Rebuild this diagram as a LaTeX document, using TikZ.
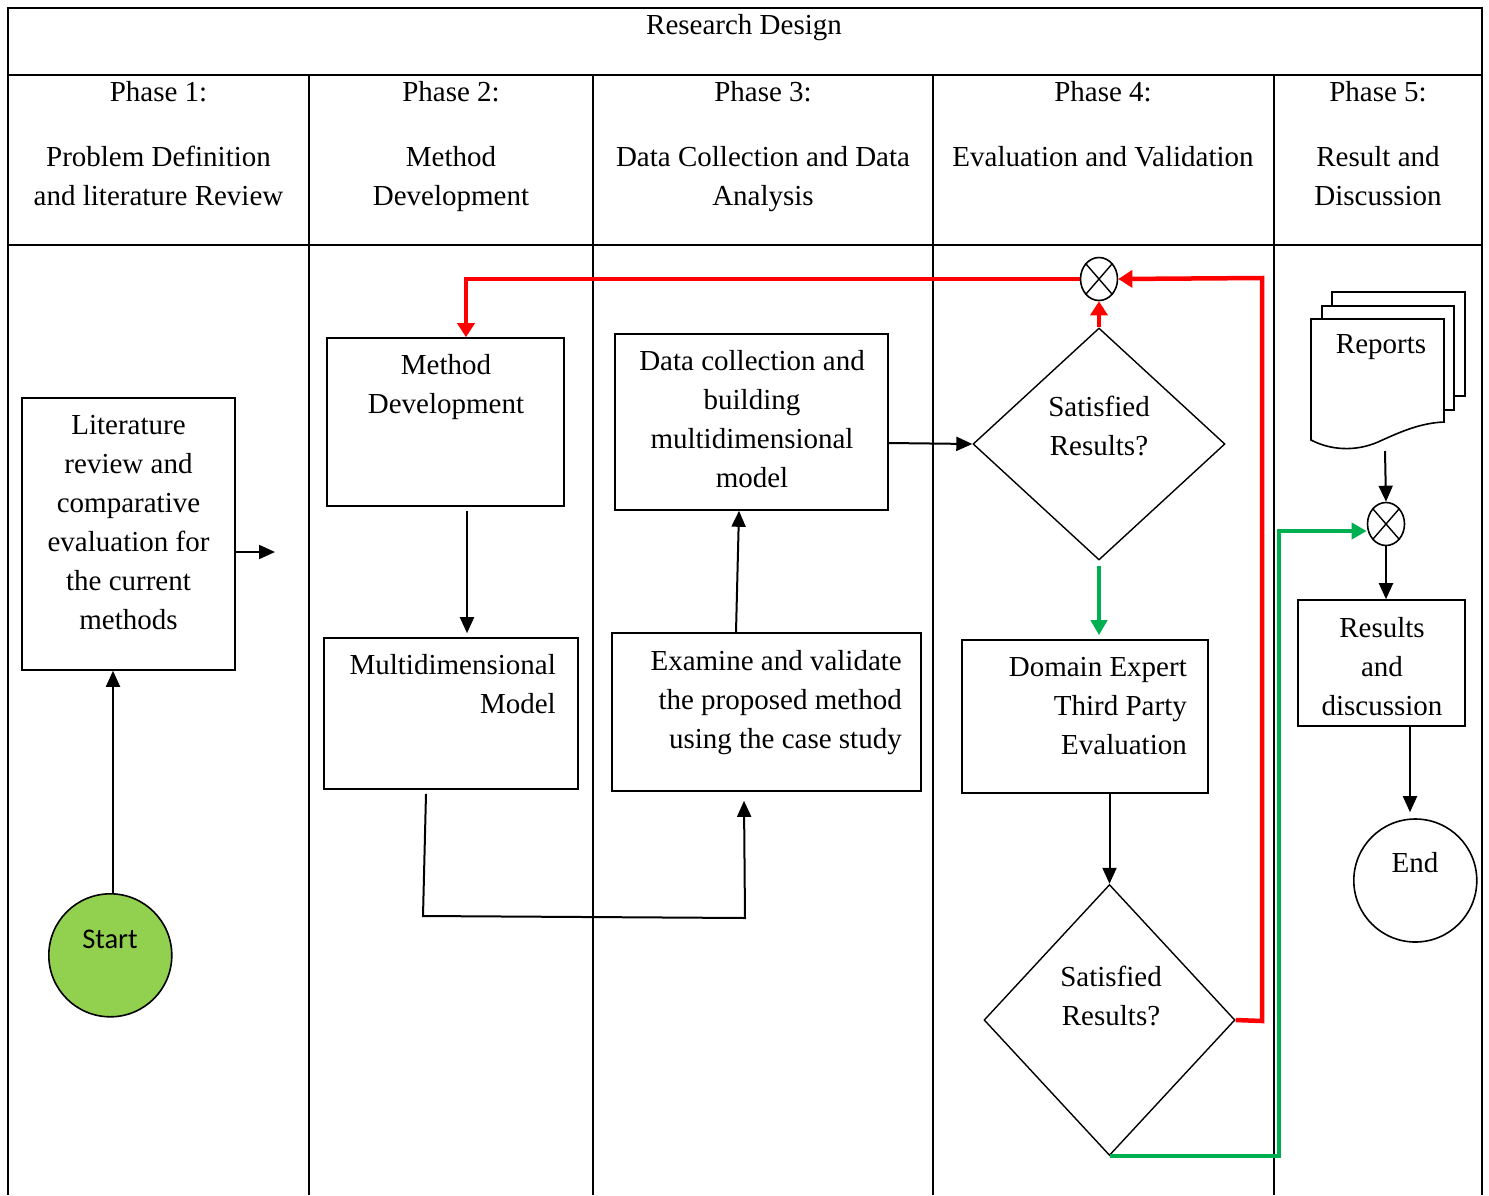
\documentclass[tikz,border=0pt]{standalone}
\usepackage{fontspec}
\setmainfont{Liberation Serif}
\newfontfamily\calibri{Carlito}
\usetikzlibrary{arrows.meta,shapes.geometric}
\definecolor{myred}{RGB}{255,0,0}
\definecolor{mygreen}{RGB}{0,176,80}
\definecolor{startgreen}{RGB}{146,208,80}
\newcommand\fs{\fontsize{29}{39}\selectfont}
\begin{document}
\begin{tikzpicture}[x=1pt,y=-1pt,
  grid/.style={line width=1.8pt},
  box/.style={draw, line width=1.6pt, inner sep=0pt},
  txt/.style={inner sep=0pt, anchor=north, font=\fs, align=center},
  rtxt/.style={inner sep=0pt, anchor=north east, font=\fs, align=right},
  arr/.style={line width=2pt, -{Triangle[length=16pt,width=14pt]}},
  redarr/.style={line width=4.5pt, draw=myred, -{Triangle[length=14pt,width=17pt]}},
  greenarr/.style={line width=4.5pt, draw=mygreen, -{Triangle[length=15pt,width=16pt]}},
  xnode/.style={ellipse, draw, line width=1.6pt, minimum width=37pt, minimum height=43pt, inner sep=0pt},
  dec/.style={diamond, draw, line width=1.4pt, inner sep=0pt},
  term/.style={circle, draw, line width=1.6pt, inner sep=0pt, minimum size=123pt}
]
\useasboundingbox (0,0) rectangle (1489,1195);

% table
\draw[grid] (8,1195) -- (8,8) -- (1482,8) -- (1482,1195);
\draw[grid] (8,75) -- (1482,75);
\draw[grid] (8,245) -- (1482,245);
\foreach \cx in {309,593,933,1274} \draw[grid] (\cx,75) -- (\cx,1195);

% headers
\node[txt] (title) at (744,7.2) {\strut Research Design};
\node[txt] (p1) at (158.5,74.2) {\strut Phase 1:};
\node[txt] (p2) at (451,74.2) {\strut Phase 2:};
\node[txt] (p3) at (763,74.2) {\strut Phase 3:};
\node[txt] (p4) at (1103,74.2) {\strut Phase 4:};
\node[txt] (p5) at (1378,74.2) {\strut Phase 5:};
\node[txt] (p1d) at (158.5,139.2) {\strut Problem Definition\\and literature Review};
\node[txt] (p2d) at (451,139.2) {\strut Method\\Development};
\node[txt] (p3d) at (763,139.2) {\strut Data Collection and Data\\Analysis};
\node[txt] (p4d) at (1103,139.2) {\strut Evaluation and Validation};
\node[txt] (p5d) at (1378,139.2) {\strut Result and\\Discussion};

% boxes
\node[box, minimum width=213pt, minimum height=272pt] (lit) at (128.5,534) {};
\node[txt] (litT) at (128.5,407.2) {\strut Literature\\review and\\comparative\\evaluation for\\the current\\methods};
\node[box, minimum width=237pt, minimum height=168pt] (mdev) at (445.5,422) {};
\node[txt] (mdevT) at (446,347.2) {\strut Method\\Development};
\node[box, minimum width=254pt, minimum height=151pt] (mm) at (451,713.5) {};
\node[rtxt] (mmT) at (556,647.2) {\strut Multidimensional\\Model};
\node[box, minimum width=273pt, minimum height=176pt] (dc) at (751.5,422) {};
\node[txt] (dcT) at (752,343.2) {\strut Data collection and\\building\\multidimensional\\model};
\node[box, minimum width=309pt, minimum height=158pt] (ex) at (766.5,712) {};
\node[rtxt] (exT) at (902,643.2) {\strut Examine and validate\\the proposed method\\using the case study};
\node[box, minimum width=246pt, minimum height=153pt] (dom) at (1085,716.5) {};
\node[rtxt] (domT) at (1187,649.2) {\strut Domain Expert\\Third Party\\Evaluation};
\node[box, minimum width=167pt, minimum height=126pt] (res) at (1381.5,663) {};
\node[txt] (resT) at (1382,610.2) {\strut Results\\and\\discussion};

% decisions
\node[dec, minimum width=252pt, minimum height=232pt] (d1) at (1099,444) {};
\node[txt] (d1T) at (1099,389.2) {\strut Satisfied\\Results?};
\node[dec, minimum width=251pt, minimum height=271pt] (d2) at (1109.5,1020) {};
\node[txt] (d2T) at (1111,959.2) {\strut Satisfied\\Results?};

% terminals
\node[term, fill=startgreen] (st) at (110.3,955.3) {};
\node[inner sep=0pt, anchor=north, font=\calibri\fontsize{28.5}{36}\selectfont] (stT) at (110,922.8) {\strut Start};
\node[term] (end) at (1415.3,880.5) {};
\node[txt] (endT) at (1415,845.2) {\strut End};

% summing junctions
\node[xnode] (x1) at (1099,279) {};
\draw[line width=1.4pt] (x1.north west) -- (x1.south east) (x1.north east) -- (x1.south west);
\node[xnode] (x2) at (1386,524) {};
\draw[line width=1.4pt] (x2.north west) -- (x2.south east) (x2.north east) -- (x2.south west);

% reports (multi-document)
\draw[line width=1.6pt, fill=white] (1332,292) rectangle (1465,396);
\draw[line width=1.6pt, fill=white] (1322,306) rectangle (1454,410);
\draw[line width=1.6pt, fill=white] (1311,319) -- (1444,319) -- (1444,422)
  .. controls (1420,423) and (1400,432) .. (1378,442)
  .. controls (1355,452) and (1330,450) .. (1311,440) -- cycle;
\node[txt] (repT) at (1381,326.2) {\strut Reports};
\coordinate (repb) at (1385,451);

% black connectors
\coordinate (litout) at (275,552);
\draw[arr] (lit.east |- 0,552) -- (litout);
\draw[arr] (st.north -| 113,0) -- (lit.south -| 113,0);
\draw[arr] ([yshift=-4pt]mdev.south -| 467,0) -- ([yshift=4pt]mm.north -| 467,0);
\draw[arr] ([yshift=-4pt]mm.south -| 426,0) -- (423,916) -- (745,918) -- ([yshift=-9pt]ex.south -| 744,0);
\draw[arr] (ex.north -| 736,0) -- (dc.south -| 739,0);
\draw[arr] (dc.east |- 0,443) -- (d1.west);
\draw[arr] (dom.south -| d2.north) -- (d2.north);
\draw[arr] (repb) -- (x2.north);
\draw[arr] (x2.south) -- (res.north -| x2.south);
\draw[arr] (res.south -| 1410,0) -- ([yshift=6pt]end.north -| 1410,0);

% red connectors
\draw[redarr] (d1.north) -- (x1.south);
\draw[redarr] (x1.west) -- (466,279) -- (mdev.north -| 466,0);
\draw[redarr] (d2.east) -- (1262,1021) -- (1262,278) -- (x1.east);

% green connectors
\draw[greenarr] ([yshift=-5pt]d1.south) -- ([yshift=4pt]dom.north -| d1.south);
\draw[greenarr] (d2.south) -- (d2.south -| 1279,0) -- (1279,531) -- (x2.west |- 0,531);
\end{tikzpicture}
\end{document}
